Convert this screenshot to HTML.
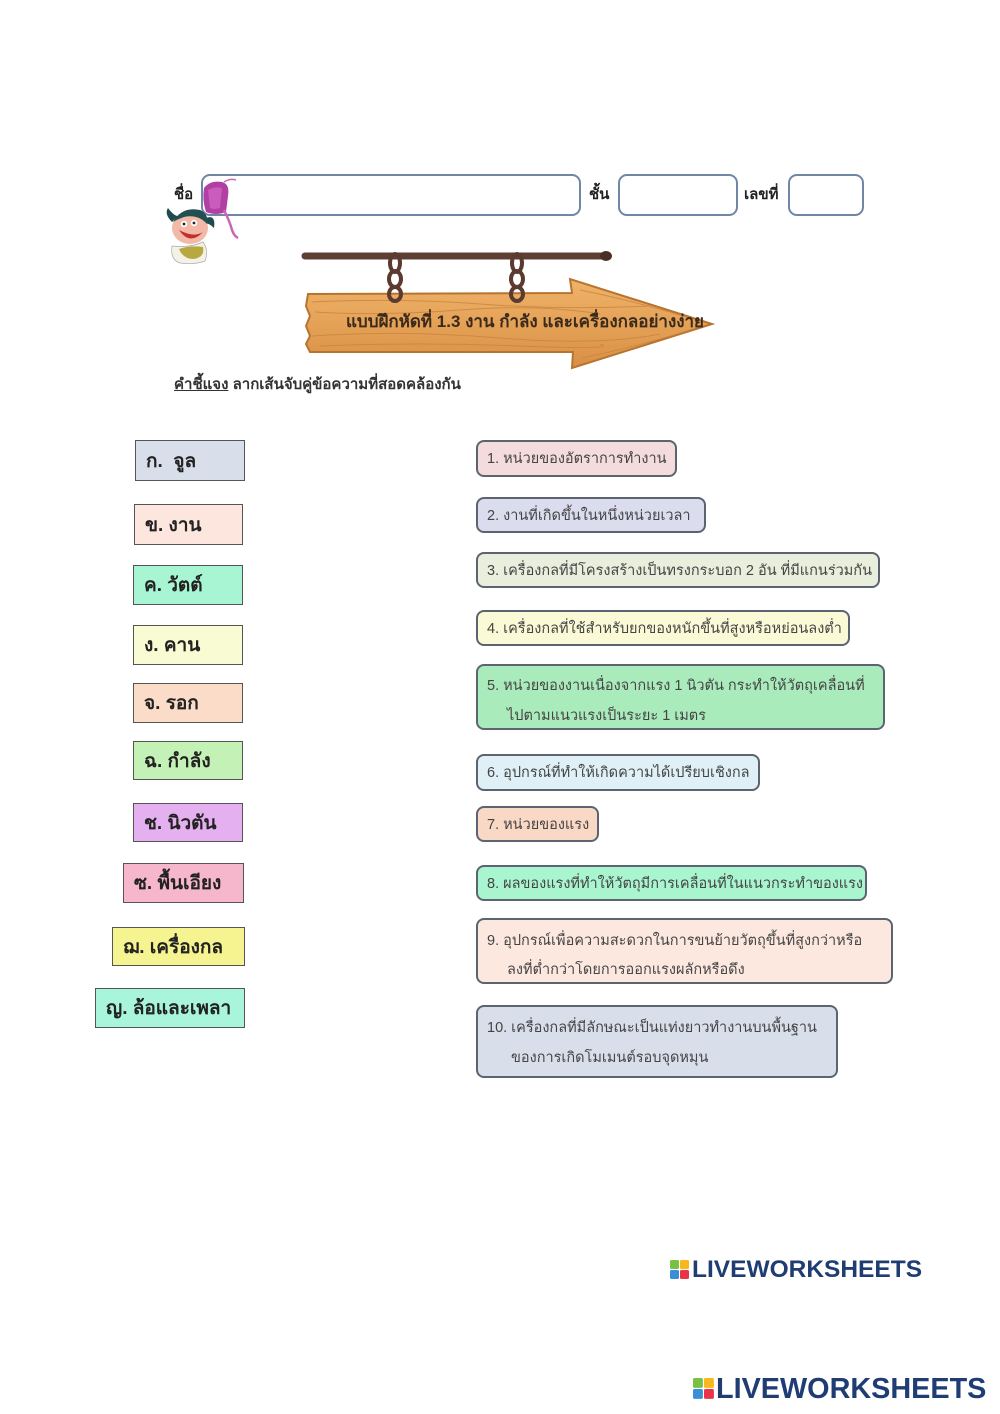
<!DOCTYPE html>
<html><head><meta charset="utf-8">
<style>
html,body{margin:0;padding:0;background:#fff;}
body{width:1000px;height:1414px;position:relative;overflow:hidden;font-family:"Liberation Sans","DejaVu Sans","Noto Sans CJK SC",sans-serif;}
.abs{position:absolute;}
.lbl{position:absolute;font-weight:bold;font-size:15px;color:#222;white-space:nowrap;}
.hb{position:absolute;border:2px solid #6f86a6;border-radius:9px;box-sizing:border-box;background:#fff;}
.lb{position:absolute;box-sizing:border-box;border:1.5px solid #555;font-weight:bold;font-size:19px;color:#222;white-space:nowrap;padding-left:10px;display:flex;align-items:center;}
.rb{position:absolute;box-sizing:border-box;border:2px solid #5b6470;border-radius:8px;font-size:14.5px;color:#444;white-space:nowrap;padding-left:9px;}
.rb div{position:absolute;left:9px;}
.rb.one{display:flex;align-items:center;}
</style></head>
<body>

<!-- Header -->
<div class="lbl" style="left:174px;top:182px;">ชื่อ</div>
<div class="hb" style="left:201px;top:174px;width:380px;height:42px;"></div>
<div class="lbl" style="left:589px;top:182px;">ชั้น</div>
<div class="hb" style="left:618px;top:174px;width:120px;height:42px;"></div>
<div class="lbl" style="left:744px;top:182px;">เลขที่</div>
<div class="hb" style="left:788px;top:174px;width:76px;height:42px;"></div>

<!-- character and bag -->
<svg class="abs" style="left:160px;top:170px;" width="100" height="100" viewBox="0 0 100 100">
  <!-- bag -->
  <path d="M44 18 Q50 10 62 12 Q70 14 68 26 L66 42 Q56 46 46 42 Q42 30 44 18Z" fill="#b23fa3"/>
  <path d="M48 20 Q54 16 62 18 L60 38 Q54 40 50 38Z" fill="#d46ac4" opacity="0.7"/>
  <path d="M64 40 Q70 52 72 60 Q74 66 78 68" stroke="#c966b8" stroke-width="2.5" fill="none"/>
  <path d="M64 12 Q70 8 76 10" stroke="#c966b8" stroke-width="1.5" fill="none"/>
  <!-- character -->
  <path d="M12 52 Q4 44 8 38 Q14 46 18 46" fill="#1f4b4e"/>
  <path d="M46 48 Q56 44 54 58 Q48 52 44 54Z" fill="#1f4b4e"/>
  <ellipse cx="30" cy="58" rx="18" ry="16" fill="#f2b9a9"/>
  <path d="M13 52 Q22 36 40 40 Q49 44 47 54 Q38 44 24 47 Q18 49 13 52Z" fill="#234f52"/>
  <path d="M19 60 Q30 76 43 62 Q34 68 19 60Z" fill="#c2302e"/>
  <circle cx="24" cy="54" r="3.2" fill="#fff"/><circle cx="34" cy="53" r="3.2" fill="#fff"/>
  <circle cx="24" cy="54" r="1.4" fill="#222"/><circle cx="34" cy="53" r="1.4" fill="#222"/>
  <path d="M12 76 Q10 90 20 93 Q34 95 45 91 Q49 80 43 72 Q30 78 12 76Z" fill="#f4f1e6" stroke="#aaa" stroke-width="0.7"/>
  <path d="M19 79 Q30 75 43 77 Q45 87 34 89 Q23 89 19 79Z" fill="#b7a93f"/>
</svg>

<!-- sign -->
<svg class="abs" style="left:0;top:0;" width="1000" height="400" viewBox="0 0 1000 400">
  <defs>
    <linearGradient id="wood" x1="0" y1="0" x2="0" y2="1">
      <stop offset="0" stop-color="#efb36a"/>
      <stop offset="0.5" stop-color="#e4a257"/>
      <stop offset="1" stop-color="#d98f45"/>
    </linearGradient>
  </defs>
  <!-- rod -->
  <line x1="305" y1="256" x2="606" y2="256" stroke="#5d3f33" stroke-width="7" stroke-linecap="round"/>
  <ellipse cx="606" cy="256" rx="6" ry="5" fill="#4a2f26"/>
  <!-- arrow -->
  <path d="M308 294 L572 293 L570 279 L712 324 L572 368 L573 352 L310 352 L306 344 L310 336 L306 326 L310 316 L306 306 Z" fill="url(#wood)" stroke="#b8732f" stroke-width="2"/>
  <g stroke="#c98440" stroke-width="1" fill="none" opacity="0.8">
    <path d="M312 302 Q400 298 480 304 T650 306"/>
    <path d="M315 312 Q380 316 460 310 T600 314"/>
    <path d="M312 336 Q400 330 500 338 T660 334"/>
    <path d="M320 346 Q420 342 520 346 T600 344"/>
    <path d="M580 290 Q630 300 690 318"/>
    <path d="M582 358 Q640 346 690 330"/>
  </g>
  <!-- chains -->
  <g stroke="#5b3a30" stroke-width="4" fill="none">
    <ellipse cx="395" cy="263" rx="5" ry="9"/>
    <ellipse cx="395" cy="279" rx="6" ry="8"/>
    <ellipse cx="395" cy="294" rx="6" ry="7"/>
    <ellipse cx="517" cy="263" rx="5" ry="9"/>
    <ellipse cx="517" cy="279" rx="6" ry="8"/>
    <ellipse cx="517" cy="294" rx="6" ry="7"/>
  </g>
  <text x="346" y="327" font-family="Liberation Sans, DejaVu Sans, sans-serif" font-weight="bold" font-size="17" fill="#3b2a1c" textLength="358" lengthAdjust="spacingAndGlyphs">แบบฝึกหัดที่ 1.3 งาน กำลัง และเครื่องกลอย่างง่าย</text>
</svg>

<!-- instruction -->
<div class="abs" style="left:174px;top:372px;font-size:15px;font-weight:bold;color:#333;white-space:nowrap;"><span style="text-decoration:underline;">คำชี้แจง</span> ลากเส้นจับคู่ข้อความที่สอดคล้องกัน</div>

<!-- left boxes -->
<div class="lb" style="left:135px;top:440px;width:110px;height:41px;background:#d9dfea;">ก.&nbsp; จูล</div>
<div class="lb" style="left:134px;top:504px;width:109px;height:41px;background:#fde6de;">ข. งาน</div>
<div class="lb" style="left:133px;top:565px;width:110px;height:40px;background:#a8f5d4;">ค. วัตต์</div>
<div class="lb" style="left:133px;top:625px;width:110px;height:40px;background:#f9fcd2;">ง. คาน</div>
<div class="lb" style="left:133px;top:683px;width:110px;height:40px;background:#fbdcc9;">จ. รอก</div>
<div class="lb" style="left:133px;top:741px;width:110px;height:39px;background:#c4f1b6;">ฉ. กำลัง</div>
<div class="lb" style="left:133px;top:803px;width:110px;height:39px;background:#e4b0ef;">ช. นิวตัน</div>
<div class="lb" style="left:123px;top:863px;width:121px;height:40px;background:#f6b6cc;">ซ. พื้นเอียง</div>
<div class="lb" style="left:112px;top:927px;width:133px;height:39px;background:#f6f490;">ฌ. เครื่องกล</div>
<div class="lb" style="left:95px;top:988px;width:150px;height:40px;background:#a9f5dc;">ญ. ล้อและเพลา</div>

<!-- right boxes -->
<div class="rb one" style="left:476px;top:440px;width:201px;height:37px;background:#f5dcdc;">1. หน่วยของอัตราการทำงาน</div>
<div class="rb one" style="left:476px;top:497px;width:230px;height:36px;background:#dcdcef;">2. งานที่เกิดขึ้นในหนึ่งหน่วยเวลา</div>
<div class="rb one" style="left:476px;top:552px;width:404px;height:36px;background:#eaeedd;">3. เครื่องกลที่มีโครงสร้างเป็นทรงกระบอก 2 อัน ที่มีแกนร่วมกัน</div>
<div class="rb one" style="left:476px;top:610px;width:374px;height:36px;background:#fafad7;">4. เครื่องกลที่ใช้สำหรับยกของหนักขึ้นที่สูงหรือหย่อนลงต่ำ</div>
<div class="rb" style="left:476px;top:664px;width:409px;height:66px;background:#aaebbc;">
  <div style="top:8px;">5. หน่วยของงานเนื่องจากแรง 1 นิวตัน กระทำให้วัตถุเคลื่อนที่</div>
  <div style="top:38px;left:29px;">ไปตามแนวแรงเป็นระยะ 1 เมตร</div>
</div>
<div class="rb one" style="left:476px;top:754px;width:284px;height:37px;background:#dff0f7;">6. อุปกรณ์ที่ทำให้เกิดความได้เปรียบเชิงกล</div>
<div class="rb one" style="left:476px;top:806px;width:123px;height:36px;background:#fad8c6;">7. หน่วยของแรง</div>
<div class="rb one" style="left:476px;top:865px;width:391px;height:36px;background:#a8f5cf;">8. ผลของแรงที่ทำให้วัตถุมีการเคลื่อนที่ในแนวกระทำของแรง</div>
<div class="rb" style="left:476px;top:918px;width:417px;height:66px;background:#fde8e0;">
  <div style="top:9px;">9. อุปกรณ์เพื่อความสะดวกในการขนย้ายวัตถุขึ้นที่สูงกว่าหรือ</div>
  <div style="top:38px;left:29px;">ลงที่ต่ำกว่าโดยการออกแรงผลักหรือดึง</div>
</div>
<div class="rb" style="left:476px;top:1005px;width:362px;height:73px;background:#d9dfea;">
  <div style="top:9px;">10. เครื่องกลที่มีลักษณะเป็นแท่งยาวทำงานบนพื้นฐาน</div>
  <div style="top:39px;left:33px;">ของการเกิดโมเมนต์รอบจุดหมุน</div>
</div>

<!-- logos -->
<svg class="abs" style="left:670px;top:1260px;" width="20" height="20" viewBox="0 0 20 20">
  <rect x="0" y="0" width="9" height="9" rx="1.5" fill="#7ac143"/>
  <rect x="10" y="0" width="9" height="9" rx="1.5" fill="#f6b81c"/>
  <rect x="0" y="10" width="9" height="9" rx="1.5" fill="#3a8fd6"/>
  <rect x="10" y="10" width="9" height="9" rx="1.5" fill="#e8334a"/>
</svg>
<div class="abs" style="left:692px;top:1256px;font-size:24.5px;font-weight:bold;color:#1f3d73;white-space:nowrap;line-height:28px;">LIVEWORKSHEETS</div>

<svg class="abs" style="left:693px;top:1378px;" width="22" height="22" viewBox="0 0 20 20">
  <rect x="0" y="0" width="9" height="9" rx="1.5" fill="#7ac143"/>
  <rect x="10" y="0" width="9" height="9" rx="1.5" fill="#f6b81c"/>
  <rect x="0" y="10" width="9" height="9" rx="1.5" fill="#3a8fd6"/>
  <rect x="10" y="10" width="9" height="9" rx="1.5" fill="#e8334a"/>
</svg>
<div class="abs" style="left:716px;top:1373px;font-size:28.8px;font-weight:bold;color:#1f3d73;white-space:nowrap;line-height:32px;">LIVEWORKSHEETS</div>

</body></html>
